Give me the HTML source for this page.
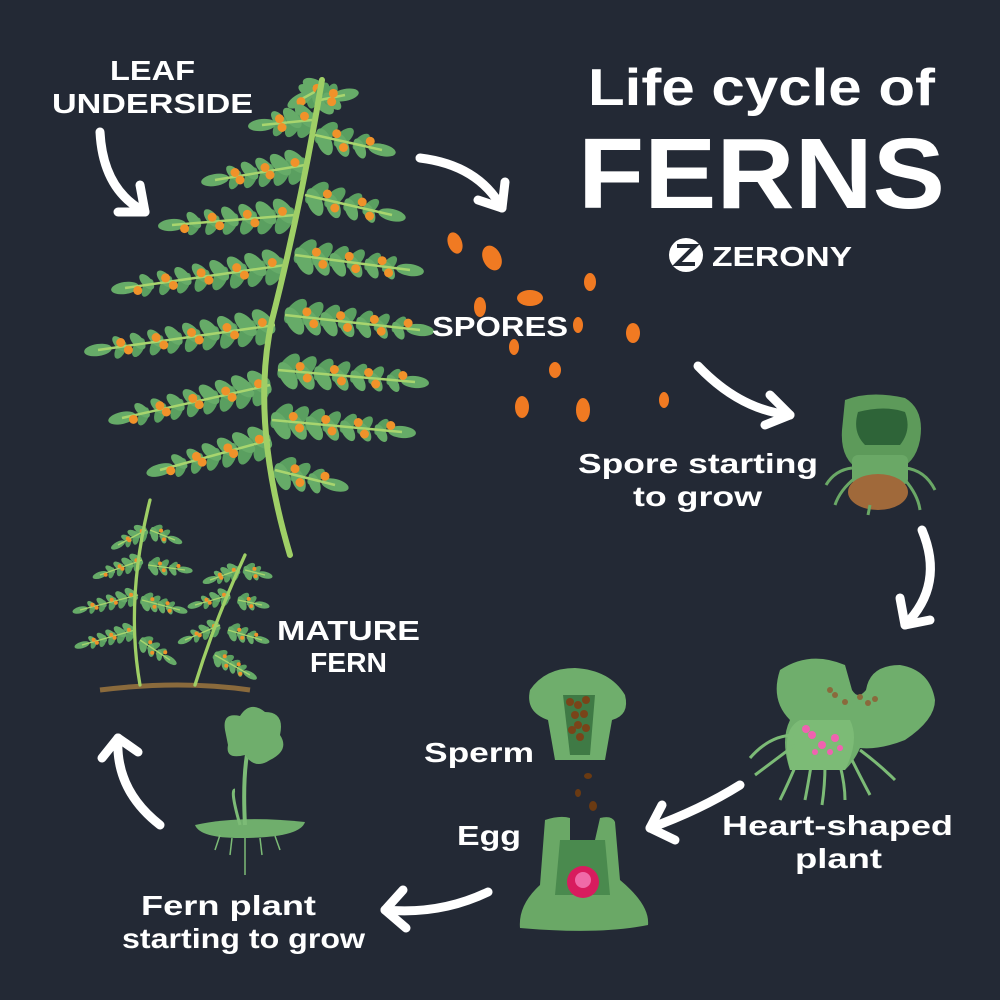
<!DOCTYPE html>
<html><head><meta charset="utf-8"><style>
html,body{margin:0;padding:0;background:#232935;}
svg{display:block}
text{font-family:"Liberation Sans",sans-serif;font-weight:bold;fill:#fff;}
</style></head><body>
<svg id="s" width="1000" height="1000" viewBox="0 0 1000 1000" xmlns="http://www.w3.org/2000/svg">
<rect width="1000" height="1000" fill="#232935"/>
<g id="fern"></g>
<g id="mature"></g>
<g fill="#f07a22">
<ellipse cx="455" cy="243" rx="7" ry="11" transform="rotate(-20 455 243)"/>
<ellipse cx="492" cy="258" rx="9" ry="13" transform="rotate(-25 492 258)"/>
<ellipse cx="590" cy="282" rx="6" ry="9"/>
<ellipse cx="530" cy="298" rx="13" ry="8"/>
<ellipse cx="480" cy="307" rx="6" ry="10"/>
<ellipse cx="578" cy="325" rx="5" ry="8"/>
<ellipse cx="633" cy="333" rx="7" ry="10"/>
<ellipse cx="514" cy="347" rx="5" ry="8"/>
<ellipse cx="555" cy="370" rx="6" ry="8"/>
<ellipse cx="664" cy="400" rx="5" ry="8"/>
<ellipse cx="522" cy="407" rx="7" ry="11"/>
<ellipse cx="583" cy="410" rx="7" ry="12"/>
</g>
<g>
<path d="M845 400 Q870 390 905 398 Q925 410 920 440 Q915 465 895 470 L860 470 Q840 460 842 430 Z" fill="#5d9a5a"/>
<path d="M858 412 Q885 405 905 412 Q912 430 900 445 L865 445 Q852 432 858 412Z" fill="#2e6438"/>
<rect x="852" y="455" width="56" height="30" rx="6" fill="#6aa866"/>
<ellipse cx="878" cy="492" rx="30" ry="18" fill="#a0693a"/>
<g stroke="#6aa866" stroke-width="3" fill="none">
<path d="M852 468 Q835 470 826 485"/><path d="M855 478 Q840 490 835 505"/><path d="M905 468 Q925 470 935 490"/><path d="M905 480 Q918 495 920 510"/><path d="M870 505 L868 515"/>
</g>
</g>
<g>
<path d="M780 670 Q810 650 845 665 L852 690 Q858 700 866 690 Q870 665 900 665 Q930 670 935 700 Q935 720 905 740 Q880 750 860 748 Q855 760 845 770 L790 770 Q780 740 790 720 Q770 700 780 670Z" fill="#6fae6c"/>
<path d="M790 770 Q780 730 800 720 L850 720 Q860 740 845 770Z" fill="#7cbb76"/>
<g fill="#f062b0"><circle cx="806" cy="729" r="4"/><circle cx="812" cy="735" r="4"/><circle cx="822" cy="745" r="4"/><circle cx="835" cy="738" r="4"/><circle cx="840" cy="748" r="3"/><circle cx="830" cy="752" r="3"/><circle cx="815" cy="752" r="3"/></g>
<g fill="#8a6a3c"><circle cx="830" cy="690" r="3"/><circle cx="835" cy="695" r="3"/><circle cx="845" cy="702" r="3"/><circle cx="860" cy="697" r="3"/><circle cx="868" cy="703" r="3"/><circle cx="875" cy="699" r="3"/></g>
<g stroke="#7cbb76" stroke-width="3" fill="none">
<path d="M795 735 Q770 735 750 758"/><path d="M795 745 Q775 760 755 775"/><path d="M800 755 Q790 780 780 800"/><path d="M812 760 Q808 785 805 800"/><path d="M825 765 Q825 785 822 805"/><path d="M840 765 Q845 785 845 800"/><path d="M852 760 Q862 780 870 795"/><path d="M860 750 Q880 765 895 780"/>
</g>
</g>
<g>
<path d="M530 690 Q545 668 575 668 Q610 670 625 695 Q630 715 612 720 L605 760 L555 760 L548 720 Q525 712 530 690Z" fill="#6fae6c"/>
<path d="M563 695 L595 695 L590 755 L570 755Z" fill="#3f7a45"/>
<g fill="#7a4419"><circle cx="570" cy="702" r="4"/><circle cx="578" cy="705" r="4"/><circle cx="586" cy="700" r="4"/><circle cx="575" cy="715" r="4"/><circle cx="584" cy="714" r="4"/><circle cx="578" cy="725" r="4"/><circle cx="586" cy="728" r="4"/><circle cx="580" cy="737" r="4"/><circle cx="572" cy="730" r="4"/></g>
<g fill="#6a3a12"><ellipse cx="588" cy="776" rx="4" ry="3"/><ellipse cx="578" cy="793" rx="3" ry="4"/><ellipse cx="593" cy="806" rx="4" ry="5"/></g>
</g>
<g>
<path d="M545 820 Q560 815 570 818 L570 840 L595 840 L600 818 Q612 815 615 822 L620 880 Q650 905 648 925 Q600 935 520 928 Q518 905 540 885 Z" fill="#6aa866"/>
<path d="M560 840 L605 840 L610 895 L555 895Z" fill="#4a8a4e"/>
<circle cx="583" cy="882" r="16" fill="#d81c5e"/><circle cx="583" cy="880" r="8" fill="#f06aa8"/>
</g>
<g>
<path d="M195 825 Q240 815 305 822 Q300 838 240 838 Q200 838 195 825Z" fill="#6fae6c"/>
<path d="M245 825 Q242 770 250 740" stroke="#7cbb76" stroke-width="4" fill="none"/>
<path d="M225 730 Q222 712 240 716 Q250 700 265 712 Q285 712 280 735 Q290 750 270 760 Q255 770 245 755 Q225 760 228 745Z" fill="#6fae6c"/>
<path d="M240 825 Q230 790 235 790" stroke="#7cbb76" stroke-width="3" fill="none"/>
<g stroke="#7cbb76" stroke-width="1.5"><path d="M220 835 L215 850"/><path d="M232 838 L230 855"/><path d="M245 838 L245 875"/><path d="M260 838 L262 855"/><path d="M275 836 L280 850"/></g>
</g>
<g stroke="#fff" stroke-width="9" fill="none" stroke-linecap="round" stroke-linejoin="round">
<path d="M100 132 Q103 190 145 212"/><path d="M118 212 L145 212 L140 185"/>
<path d="M420 158 Q478 165 502 208"/><path d="M478 200 L502 208 L505 182"/>
<path d="M698 366 Q740 410 790 415"/><path d="M770 395 L790 415 L765 425"/>
<path d="M922 530 Q945 585 905 625"/><path d="M900 598 L905 625 L930 620"/>
<path d="M740 785 Q700 810 650 828"/><path d="M662 805 L650 828 L675 840"/>
<path d="M488 892 Q440 915 385 910"/><path d="M403 890 L385 910 L406 928"/>
<path d="M160 825 Q115 790 118 738"/><path d="M102 758 L118 738 L138 752"/>
</g>
<g font-size="28" lengthAdjust="spacingAndGlyphs">
<text x="110" y="80" textLength="85" lengthAdjust="spacingAndGlyphs">LEAF</text>
<text x="52" y="113" textLength="201" lengthAdjust="spacingAndGlyphs">UNDERSIDE</text>
<text x="432" y="336" textLength="136" lengthAdjust="spacingAndGlyphs">SPORES</text>
<text x="578" y="473" textLength="240" lengthAdjust="spacingAndGlyphs">Spore starting</text>
<text x="633" y="506" textLength="129" lengthAdjust="spacingAndGlyphs">to grow</text>
<text x="277" y="640" textLength="143" lengthAdjust="spacingAndGlyphs">MATURE</text>
<text x="310" y="672" textLength="77" lengthAdjust="spacingAndGlyphs">FERN</text>
<text x="424" y="762" textLength="110" lengthAdjust="spacingAndGlyphs">Sperm</text>
<text x="457" y="845" textLength="64" lengthAdjust="spacingAndGlyphs">Egg</text>
<text x="722" y="835" textLength="231" lengthAdjust="spacingAndGlyphs">Heart-shaped</text>
<text x="795" y="868" textLength="87" lengthAdjust="spacingAndGlyphs">plant</text>
<text x="141" y="915" textLength="175" lengthAdjust="spacingAndGlyphs">Fern plant</text>
<text x="122" y="948" textLength="243" lengthAdjust="spacingAndGlyphs">starting to grow</text>
</g>
<text x="588" y="105" font-size="52" textLength="347" lengthAdjust="spacingAndGlyphs">Life cycle of</text>
<text x="578" y="208" font-size="100" textLength="367" lengthAdjust="spacingAndGlyphs">FERNS</text>
<circle cx="686" cy="255" r="17" fill="#fff"/>
<path d="M677 246 L695 246 L677 264 L695 264" stroke="#232935" stroke-width="4" fill="none"/>
<text x="712" y="266" font-size="28" textLength="140" lengthAdjust="spacingAndGlyphs">ZERONY</text>
</svg>
<script>
var NS="http://www.w3.org/2000/svg";
function el(p,t,a){var e=document.createElementNS(NS,t);for(var k in a)e.setAttribute(k,a[k]);p.appendChild(e);return e;}
function frond(g,rachis,pinnae,sc,dot){
 pinnae.forEach(function(p){
  var x1=p[0],y1=p[1],x2=p[2],y2=p[3];
  var dx=x2-x1,dy=y2-y1,L=Math.hypot(dx,dy),ang=Math.atan2(dy,dx)*180/Math.PI;
  var n=Math.max(2,Math.round(L/(20*sc)));
  for(var i=1;i<=n;i++){
   var t=i/(n+1),cx=x1+dx*t,cy=y1+dy*t,sz=(1-t*0.45)*sc;
   el(g,"ellipse",{cx:cx,cy:cy,rx:16*sz,ry:8*sz,fill:"#5a9f60",transform:"rotate("+(ang-55)+" "+cx+" "+cy+") translate(0 "+(-9*sz)+")"});
   el(g,"ellipse",{cx:cx,cy:cy,rx:16*sz,ry:8*sz,fill:"#66ab68",transform:"rotate("+(ang+55)+" "+cx+" "+cy+") translate(0 "+(9*sz)+")"});
  }
  el(g,"ellipse",{cx:x2,cy:y2,rx:14*sc,ry:6*sc,fill:"#66ab68",transform:"rotate("+ang+" "+x2+" "+y2+")"});
  el(g,"line",{x1:x1,y1:y1,x2:x2,y2:y2,stroke:"#a8d56e","stroke-width":2.5*sc});
  for(var i=1;i<=n;i++){var t=i/(n+1);
   el(g,"circle",{cx:x1+dx*t+(i%2?5:-5)*sc,cy:y1+dy*t+(i%2?-5:5)*sc,r:dot,fill:"#f0922a"});}
 });
 el(g,"path",{d:rachis,stroke:"#9fcf66","stroke-width":6*sc,fill:"none","stroke-linecap":"round"});
}
var f=document.getElementById("fern");
frond(f,"M290 555 Q250 420 272 320 Q300 210 322 80",[
[318,90,300,100],[312,120,262,125],[305,165,215,180],[295,215,172,225],[285,265,125,288],[275,325,98,350],[270,385,122,418],[270,440,160,470],
[320,100,345,95],[315,135,382,150],[305,195,392,215],[295,255,410,270],[285,315,420,330],[278,370,415,382],[272,420,402,432],[275,470,335,485]
],1,4.5);
var m=document.getElementById("mature");
el(m,"path",{d:"M100 690 Q180 680 250 690",stroke:"#8a6a3c","stroke-width":5,fill:"none"});
frond(m,"M140 685 Q125 600 150 500",[[146,530,118,545],[142,560,100,575],[138,595,80,610],[135,630,82,645],[150,530,175,540],[148,565,185,570],[142,600,180,610],[140,640,170,660]],0.55,2);
frond(m,"M195 685 Q215 620 245 555",[[238,570,210,580],[230,595,195,605],[220,625,185,640],[245,570,265,575],[238,600,262,605],[228,630,262,640],[215,655,250,675]],0.55,2);
</script>
</body></html>
